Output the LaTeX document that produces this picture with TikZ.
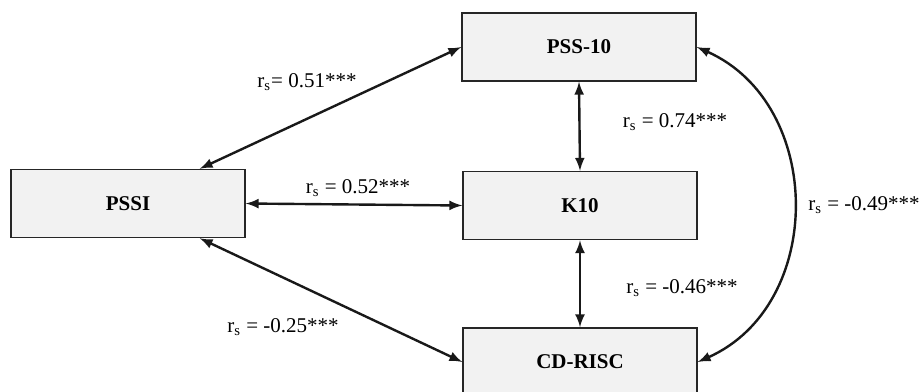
\documentclass[tikz,border=0pt]{standalone}
\usepackage{fontspec}
\setmainfont{Liberation Serif}
\usepackage{tikz}
\usetikzlibrary{arrows}

\begin{document}
\begin{tikzpicture}[x=0.5pt,y=-0.5pt,
  box/.style={draw=black!85, line width=0.75pt, fill=black!5, anchor=center,
    minimum width=117pt, minimum height=34pt, font=\fontsize{10.5}{12}\selectfont\bfseries},
  conn/.style={<->,>=latex, line width=1.2pt, black!90},
  coef/.style={inner sep=0pt, font=\fontsize{10.5}{12}\selectfont}]
\useasboundingbox (0,0) rectangle (921,391);

\node[box] (1) at (128,203.5)
{PSSI};

\node[box] (2) at (579,47)
{PSS-10};

\node[box] (3) at (580,205.5)
{K10};

\node[box] (4) at (580,362)
{CD-RISC};


\draw[conn] ([xshift=-23pt]1.north east) -- (2.west);

\draw[conn] (1.east) -- (3.west);

\draw[conn] ([xshift=-23pt]1.south east) -- (4.west);

\draw[conn] (2.south) -- (3.north);

\draw[conn] (3.south) -- (4.north);

\draw[conn] (2.east) .. controls +(128,57) and +(128,-57) .. (4.east);

\node[coef] (l1) at (307,82) {r\textsubscript{s}= 0.51***};
\node[coef] (l2) at (358,188) {r\textsubscript{s} = 0.52***};
\node[coef] (l3) at (283,327) {r\textsubscript{s} = -0.25***};
\node[coef] (l4) at (675,122) {r\textsubscript{s} = 0.74***};
\node[coef] (l5) at (682,288) {r\textsubscript{s} = -0.46***};
\node[coef, anchor=west] (l6) at (808,205) {r\textsubscript{s} = -0.49***};
\end{tikzpicture}
\end{document}
